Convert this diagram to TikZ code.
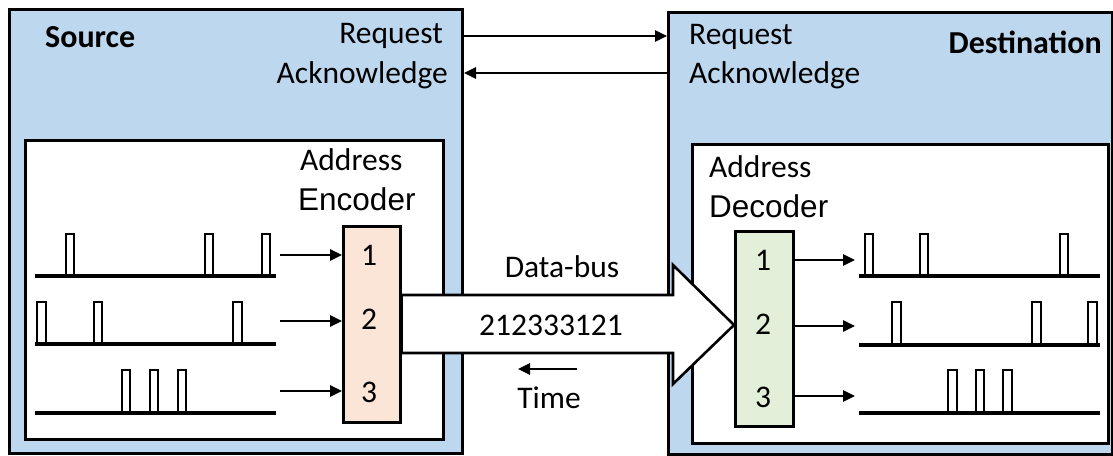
\documentclass[tikz,border=0pt]{standalone}
\usepackage{fontspec}
\setmainfont{Carlito}
\newfontfamily\arialfont{Liberation Sans}
\usetikzlibrary{arrows.meta}
\definecolor{panelblue}{HTML}{BDD7EE}
\definecolor{encfill}{HTML}{FBE5D6}
\definecolor{decfill}{HTML}{E2F0D9}
\tikzset{
  panel/.style={draw, line width=3pt, fill=panelblue, anchor=north west, inner sep=0pt},
  innerbox/.style={draw, line width=3pt, fill=white, anchor=north west, inner sep=0pt},
  codebox/.style={draw, line width=2.6pt, anchor=north west, inner sep=0pt},
  lbl/.style={font=\fontsize{31.5}{37}\selectfont, inner sep=0pt},
  bigl/.style={font=\arialfont\fontsize{31.5}{37}\selectfont, inner sep=0pt},
  boldl/.style={font=\bfseries\fontsize{32}{37}\selectfont, inner sep=0pt},
  sigline/.style={line width=3.8pt},
  pulse/.style={line width=2.6pt},
  arr/.style={-{Triangle[length=12pt,width=11pt]}, line width=2.6pt},
}
\newcommand{\pulseat}[4]{\draw[pulse] (#1,#3) -- (#1,#4) -- (#2,#4) -- (#2,#3);}
\begin{document}
\begin{tikzpicture}[x=1pt,y=-1pt]
\useasboundingbox (0,0) rectangle (1113,455);

% Outer panels
\node[panel, minimum width=453pt, minimum height=444pt] (src) at (8,8) {};
\node[panel, minimum width=444pt, minimum height=442pt] (dst) at (667,11) {};

% Inner boxes
\node[innerbox, minimum width=418pt, minimum height=299pt] (srcin) at (24,139) {};
\node[innerbox, minimum width=416pt, minimum height=299pt] (dstin) at (691,143) {};

% Titles
\node[boldl, anchor=base west] (srct) at (45,47) {Source};
\node[boldl, anchor=base east] (dstt) at (1102,53) {Destination};

% Handshake labels
\node[lbl, anchor=base east] (reqS) at (443,43) {Request};
\node[lbl, anchor=base east] (ackS) at (448,83) {Acknowledge};
\node[lbl, anchor=base west] (reqD) at (689,44) {Request};
\node[lbl, anchor=base west] (ackD) at (689,83) {Acknowledge};
\coordinate (reqy) at (0,36);
\coordinate (acky) at (0,73);
\draw[arr] (src.east |- reqy) -- (dst.west |- reqy);
\draw[arr] (dst.west |- acky) -- (src.east |- acky);

% Encoder
\node[lbl, anchor=base west] (encA) at (300,170) {Address};
\node[bigl, anchor=base west] (encE) at (298,210) {Encoder};
\node[codebox, fill=encfill, minimum width=57pt, minimum height=196pt] (enc) at (342,225) {};
\node[lbl, anchor=base] (e1) at (369,265) {1};
\node[lbl, anchor=base] (e2) at (369,329) {2};
\node[lbl, anchor=base] (e3) at (369,402) {3};

% Decoder
\node[lbl, anchor=base west] (decA) at (709,177) {Address};
\node[bigl, anchor=base west] (decD) at (709,217) {Decoder};
\node[codebox, fill=decfill, minimum width=58pt, minimum height=195pt] (dec) at (734,230) {};
\node[lbl, anchor=base] (d1) at (763,270) {1};
\node[lbl, anchor=base] (d2) at (763,334) {2};
\node[lbl, anchor=base] (d3) at (763,407) {3};

% Source spike trains
\pulseat{66}{74}{276}{234}\pulseat{205}{213}{276}{234}\pulseat{262}{270}{276}{234}
\pulseat{37}{46}{344}{302}\pulseat{94}{102}{344}{302}\pulseat{233}{242}{344}{302}
\pulseat{122}{130}{413}{370}\pulseat{150}{158}{413}{370}\pulseat{178}{186}{413}{370}
\coordinate (s1) at (276,276);
\coordinate (s2) at (276,344);
\coordinate (s3) at (276,413);
\draw[sigline] (35,276) -- (s1);
\draw[sigline] (35,344) -- (s2);
\draw[sigline] (35,413) -- (s3);
\draw[arr] (280,255) -- (enc.west |- 0,255);
\draw[arr] (280,321) -- (enc.west |- 0,321);
\draw[arr] (280,391) -- (enc.west |- 0,391);

% Destination spike trains
\pulseat{865}{873}{276}{234}\pulseat{920}{928}{276}{234}\pulseat{1060}{1068}{276}{234}
\pulseat{892}{901}{345}{302}\pulseat{1032}{1041}{345}{302}\pulseat{1088}{1097}{345}{302}
\pulseat{948}{957}{413}{370}\pulseat{976}{984}{413}{370}\pulseat{1003}{1012}{413}{370}
\draw[sigline] (859,276) -- (1100,276);
\draw[sigline] (859,345) -- (1100,345);
\draw[sigline] (859,413) -- (1100,413);
\coordinate (o1) at (855,260);
\coordinate (o2) at (855,326);
\coordinate (o3) at (855,396);
\draw[arr] (dec.east |- o1) -- (o1);
\draw[arr] (dec.east |- o2) -- (o2);
\draw[arr] (dec.east |- o3) -- (o3);

% Data bus arrow
\draw[line width=2.6pt, fill=white, line join=miter]
  (enc.east |- 0,295) -- (673,295) -- (673,265) -- (dec.west |- 0,325)
  -- (673,384) -- (673,353) -- (enc.east |- 0,353) -- cycle;
\node[lbl, anchor=base] (busl) at (562,277) {Data-bus};
\node[lbl, anchor=base] (seq) at (551,335) {212333121};
\coordinate (tR) at (577,369);
\coordinate (tL) at (518,369);
\draw[arr] (tR) -- (tL);
\node[lbl, anchor=base] (timel) at (549,408) {Time};
\end{tikzpicture}
\end{document}
